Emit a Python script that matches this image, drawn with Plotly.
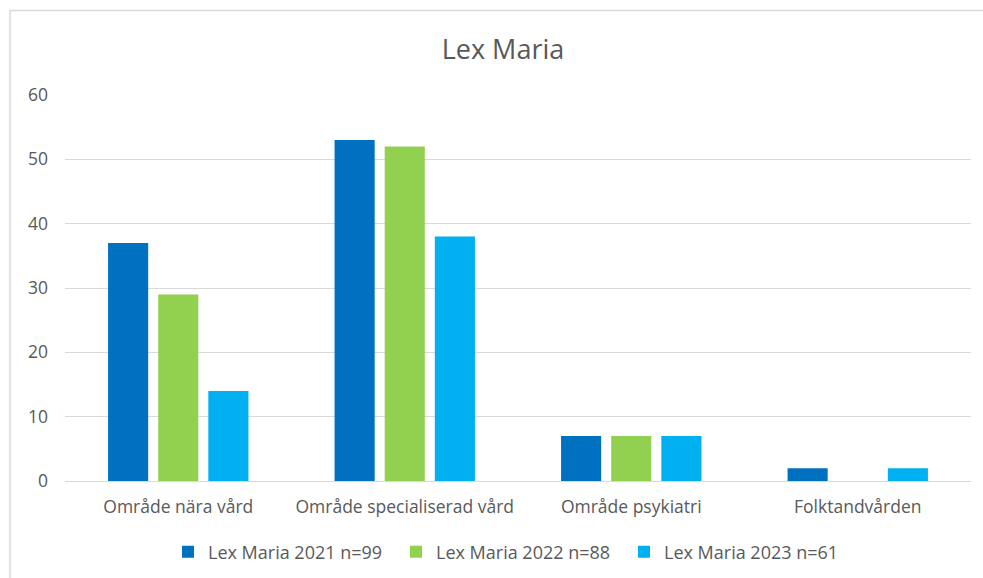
import plotly.graph_objects as go

categories = ["Område nära vård", "Område specialiserad vård", "Område psykiatri", "Folktandvården"]
series_names = ["Lex Maria 2021 n=99", "Lex Maria 2022 n=88", "Lex Maria 2023 n=61"]
values_2021 = [37, 53, 7, 2]
values_2022 = [29, 52, 7, 0]
values_2023 = [14, 38, 7, 2]
colors = ["#0070C0", "#92D050", "#00B0F0"]
y_ticks = [0, 10, 20, 30, 40, 50, 60]

FONT = "Open Sans"
TXT = "#595959"

fig = go.Figure()
for name, vals, col in zip(series_names, [values_2021, values_2022, values_2023], colors):
    fig.add_trace(go.Bar(name=name, x=categories, y=vals, marker=dict(color=col, line=dict(width=0))))

W, H = 983, 578
ml, mr, mt, mb = 65, 12, 95, 97
pw = W - ml - mr
ph = H - mt - mb

def px_x(p):
    return (p - ml) / pw

def px_y(p):
    return (H - mb - p) / ph

fig.update_layout(
    width=W, height=H,
    margin=dict(l=ml, r=mr, t=mt, b=mb, pad=0, autoexpand=False),
    paper_bgcolor="white", plot_bgcolor="white",
    barmode="group", bargap=0.336, bargroupgap=0.2,
    font=dict(family=FONT, color=TXT, size=16),
    title=dict(text="Lex Maria", xref="container", x=503 / W, xanchor="center",
               yref="container", y=1 - 50 / H, yanchor="middle",
               font=dict(size=27, color=TXT, family=FONT)),
    showlegend=True,
    legend=dict(orientation="h", x=px_x(510), xanchor="center", y=px_y(552), yanchor="middle",
                font=dict(size=18, color=TXT), itemwidth=30, traceorder="normal",
                entrywidth=183, entrywidthmode="pixels"),
    yaxis=dict(range=[0, 60], tickvals=y_ticks, showgrid=True, gridcolor="#D9D9D9", gridwidth=1,
               zeroline=True, zerolinecolor="#D9D9D9", zerolinewidth=1, showline=False,
               ticks="", ticklabelstandoff=16, tickfont=dict(size=17.5, color=TXT), fixedrange=True,
               automargin=False),
    xaxis=dict(showline=False, ticks="", showgrid=False, tickfont=dict(size=17.5, color=TXT),
               ticklabelstandoff=13, automargin=False),
    shapes=[dict(type="rect", xref="paper", yref="paper",
                 x0=px_x(10), x1=px_x(1000), y0=px_y(600), y1=px_y(10.5),
                 line=dict(color="#D9D9D9", width=1.5), fillcolor="rgba(0,0,0,0)", layer="below")],
)

fig.write_html("out.html")
